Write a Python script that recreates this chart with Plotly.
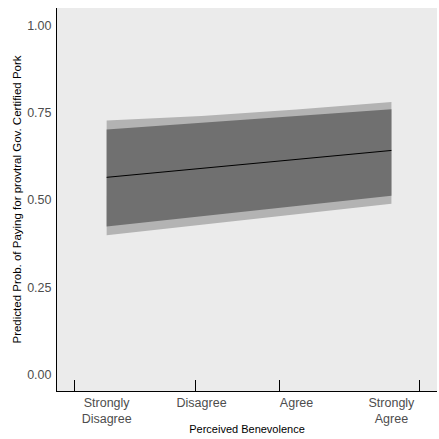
import plotly.graph_objects as go

categories = ["Strongly<br>Disagree", "Disagree", "Agree", "Strongly<br>Agree"]
x_vals = [1, 2, 3, 4]
fit = [0.565, 0.590, 0.616, 0.642]
inner_upper = [0.702, 0.722, 0.741, 0.760]
inner_lower = [0.424, 0.455, 0.483, 0.512]
outer_upper = [0.728, 0.741, 0.759, 0.781]
outer_lower = [0.399, 0.429, 0.459, 0.489]
tick_mark_positions = [0.662, 1.94, 2.82, 4.30]
y_ticks = [0, 0.25, 0.5, 0.75, 1.0]
y_tick_labels = ["0.00", "0.25", "0.50", "0.75", "1.00"]

FONT = "Liberation Sans, Arial, sans-serif"

fig = go.Figure()
fig.add_trace(go.Scatter(
    x=x_vals + x_vals[::-1], y=outer_upper + outer_lower[::-1],
    fill="toself", fillcolor="#b3b3b3", line=dict(width=0),
    mode="lines", hoverinfo="skip", showlegend=False))
fig.add_trace(go.Scatter(
    x=x_vals + x_vals[::-1], y=inner_upper + inner_lower[::-1],
    fill="toself", fillcolor="#707070", line=dict(width=0),
    mode="lines", hoverinfo="skip", showlegend=False))
fig.add_trace(go.Scatter(
    x=x_vals, y=fit, mode="lines", line=dict(color="black", width=1),
    showlegend=False))
# invisible trace to activate secondary x axis for tick marks
fig.add_trace(go.Scatter(x=tick_mark_positions, y=[None]*4, xaxis="x2",
                         mode="markers", showlegend=False, hoverinfo="skip"))

xr = [0.477, 4.48]
fig.update_layout(
    width=439, height=439,
    margin=dict(l=57, r=2, t=8, b=48, autoexpand=False),
    paper_bgcolor="white", plot_bgcolor="#ebebeb",
    font=dict(family=FONT),
    xaxis=dict(range=xr, tickvals=x_vals, ticktext=categories, ticks="",
               showgrid=False, zeroline=False, showline=True,
               linecolor="black", linewidth=1,
               tickfont=dict(size=12.5, color="#4d4d4d", family=FONT),
               title=dict(text="Perceived Benevolence",
                          font=dict(size=11, color="black", family=FONT),
                          standoff=0)),
    xaxis2=dict(range=xr, overlaying="x", side="bottom", anchor="y",
                tickvals=tick_mark_positions, ticks="inside", ticklen=11,
                tickcolor="black", tickwidth=1, showticklabels=False,
                showgrid=False, zeroline=False, showline=False),
    yaxis=dict(range=[-0.047, 1.05], tickvals=y_ticks, ticktext=y_tick_labels,
               ticks="", showgrid=False, zeroline=False, showline=True,
               linecolor="black", linewidth=1, ticklabelstandoff=2,
               tickfont=dict(size=12.5, color="#4d4d4d", family=FONT),
               title=dict(text="Predicted Prob. of Paying for provtral Gov. Certified Pork",
                          font=dict(size=11.5, color="black", family=FONT),
                          standoff=3)),
)

fig.write_html("out.html", config={"displayModeBar": False},
               post_script="document.body.style.margin='0';")
